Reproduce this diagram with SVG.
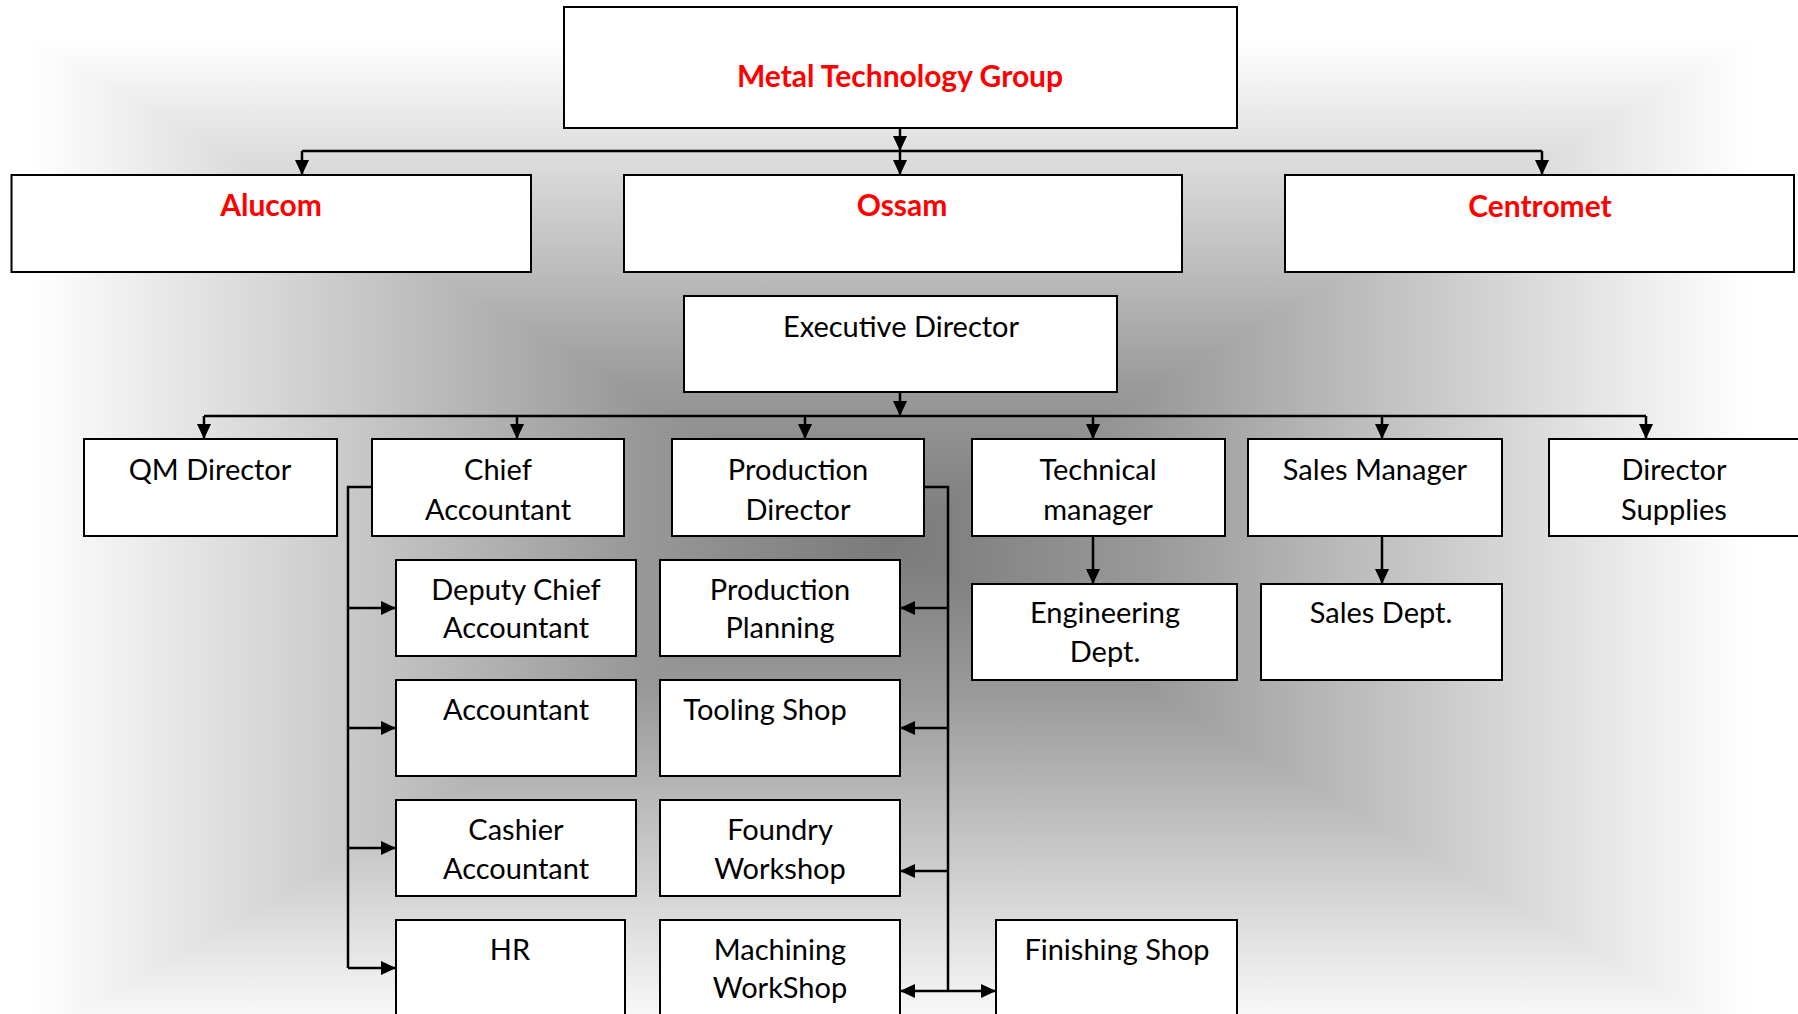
<svg xmlns="http://www.w3.org/2000/svg" width="1798" height="1014" viewBox="0 0 1798 1014">
<defs>
<style>
.box{fill:#fff;stroke:#000;stroke-width:2}
.t{font-family:Lato,"Liberation Sans",sans-serif;font-size:29px;fill:#000;text-anchor:middle}
.r{font-family:Lato,"Liberation Sans",sans-serif;font-size:30px;font-weight:bold;fill:#ff0000;text-anchor:middle}
.c{fill:none;stroke:#000;stroke-width:2.5}
.a{marker-end:url(#ah)}
</style>
<marker id="ah" viewBox="0 0 15 14" refX="15" refY="7" markerWidth="15" markerHeight="14" markerUnits="userSpaceOnUse" orient="auto-start-reverse"><path d="M0,0 L15,7 L0,14 z" fill="#000"/></marker>
<linearGradient id="gT" gradientUnits="userSpaceOnUse" x1="0" y1="540" x2="0" y2="40"><stop offset="0" stop-color="#7a7a7a"/><stop offset="0.3" stop-color="#999"/><stop offset="1" stop-color="#fff"/></linearGradient>
<linearGradient id="gB" gradientUnits="userSpaceOnUse" x1="0" y1="540" x2="0" y2="1040"><stop offset="0" stop-color="#7a7a7a"/><stop offset="0.3" stop-color="#999"/><stop offset="1" stop-color="#fff"/></linearGradient>
<linearGradient id="gL" gradientUnits="userSpaceOnUse" x1="890" y1="0" x2="30" y2="0"><stop offset="0" stop-color="#7a7a7a"/><stop offset="0.3" stop-color="#999"/><stop offset="1" stop-color="#fff"/></linearGradient>
<linearGradient id="gR" gradientUnits="userSpaceOnUse" x1="890" y1="0" x2="1750" y2="0"><stop offset="0" stop-color="#7a7a7a"/><stop offset="0.3" stop-color="#999"/><stop offset="1" stop-color="#fff"/></linearGradient>
</defs>
<g id="background">
<rect x="0" y="0" width="1798" height="1014" fill="#fff"/>
<rect x="30" y="40" width="1720" height="501" fill="url(#gT)"/>
<rect x="30" y="540" width="1720" height="500" fill="url(#gB)"/>
<polygon points="890,540 30,40 30,1040" fill="url(#gL)"/>
<polygon points="890,540 1750,40 1750,1040" fill="url(#gR)"/>
</g>
<g id="connectors">
<path class="c a" d="M900,128 V151"/>
<path class="c" d="M302,151 H1542"/>
<path class="c a" d="M302,151 V175"/>
<path class="c a" d="M900,151 V175"/>
<path class="c a" d="M1542,151 V175"/>
<path class="c a" d="M900,392 V416"/>
<path class="c" d="M204,416 H1646"/>
<path class="c a" d="M204,416 V439"/>
<path class="c a" d="M517,416 V439"/>
<path class="c a" d="M805,416 V439"/>
<path class="c a" d="M1093,416 V439"/>
<path class="c a" d="M1382,416 V439"/>
<path class="c a" d="M1646,416 V439"/>
<path class="c" d="M372,487 H348 V968"/>
<path class="c a" d="M348,608 H396"/>
<path class="c a" d="M348,728 H396"/>
<path class="c a" d="M348,848 H396"/>
<path class="c a" d="M348,968 H396"/>
<path class="c" d="M924,487 H948 V991"/>
<path class="c a" d="M948,608 H900"/>
<path class="c a" d="M948,728 H900"/>
<path class="c a" d="M948,871 H900"/>
<path class="c a" d="M900,991 H996" marker-start="url(#ah)"/>
<path class="c a" d="M1093,536 V584"/>
<path class="c a" d="M1382,536 V584"/>
</g>
<g id="mtg"><rect class="box" x="564" y="7" width="673" height="121"/><text class="r" x="900" y="87">Metal Technology Group</text></g>
<g id="alucom"><rect class="box" x="11.5" y="175" width="519.5" height="97"/><text class="r" x="271" y="216">Alucom</text></g>
<g id="ossam"><rect class="box" x="624" y="175" width="558" height="97"/><text class="r" x="902" y="216">Ossam</text></g>
<g id="centromet"><rect class="box" x="1285" y="175" width="509" height="97"/><text class="r" x="1540" y="217">Centromet</text></g>
<g id="exec"><rect class="box" x="684" y="296" width="433" height="96"/><text class="t" x="901" y="337">Executive Director</text></g>
<g id="qm"><rect class="box" x="84" y="439" width="253" height="97"/><text class="t" x="210" y="480">QM Director</text></g>
<g id="chief"><rect class="box" x="372" y="439" width="252" height="97"/><text class="t" x="498" y="480">Chief</text><text class="t" x="498" y="520">Accountant</text></g>
<g id="proddir"><rect class="box" x="672" y="439" width="252" height="97"/><text class="t" x="798" y="480">Production</text><text class="t" x="798" y="520">Director</text></g>
<g id="tech"><rect class="box" x="972" y="439" width="253" height="97"/><text class="t" x="1098" y="480">Technical</text><text class="t" x="1098" y="520">manager</text></g>
<g id="salesmgr"><rect class="box" x="1248" y="439" width="254" height="97"/><text class="t" x="1375" y="480">Sales Manager</text></g>
<g id="supplies"><rect class="box" x="1549" y="439" width="260" height="97"/><text class="t" x="1674" y="480">Director</text><text class="t" x="1674" y="520">Supplies</text></g>
<g id="deputy"><rect class="box" x="396" y="560" width="240" height="96"/><text class="t" x="516" y="600">Deputy Chief</text><text class="t" x="516" y="638">Accountant</text></g>
<g id="planning"><rect class="box" x="660" y="560" width="240" height="96"/><text class="t" x="780" y="600">Production</text><text class="t" x="780" y="638">Planning</text></g>
<g id="accountant"><rect class="box" x="396" y="680" width="240" height="96"/><text class="t" x="516" y="720">Accountant</text></g>
<g id="tooling"><rect class="box" x="660" y="680" width="240" height="96"/><text class="t" x="765" y="720">Tooling Shop</text></g>
<g id="cashier"><rect class="box" x="396" y="800" width="240" height="96"/><text class="t" x="516" y="840">Cashier</text><text class="t" x="516" y="879">Accountant</text></g>
<g id="foundry"><rect class="box" x="660" y="800" width="240" height="96"/><text class="t" x="780" y="840">Foundry</text><text class="t" x="780" y="879">Workshop</text></g>
<g id="hr"><rect class="box" x="396" y="920" width="229" height="110"/><text class="t" x="510" y="960">HR</text></g>
<g id="machining"><rect class="box" x="660" y="920" width="240" height="110"/><text class="t" x="780" y="960">Machining</text><text class="t" x="780" y="998">WorkShop</text></g>
<g id="engineering"><rect class="box" x="972" y="584" width="265" height="96"/><text class="t" x="1105" y="623">Engineering</text><text class="t" x="1105" y="662">Dept.</text></g>
<g id="salesdept"><rect class="box" x="1261" y="584" width="241" height="96"/><text class="t" x="1381" y="623">Sales Dept.</text></g>
<g id="finishing"><rect class="box" x="996" y="920" width="241" height="110"/><text class="t" x="1117" y="960">Finishing Shop</text></g>
</svg>
